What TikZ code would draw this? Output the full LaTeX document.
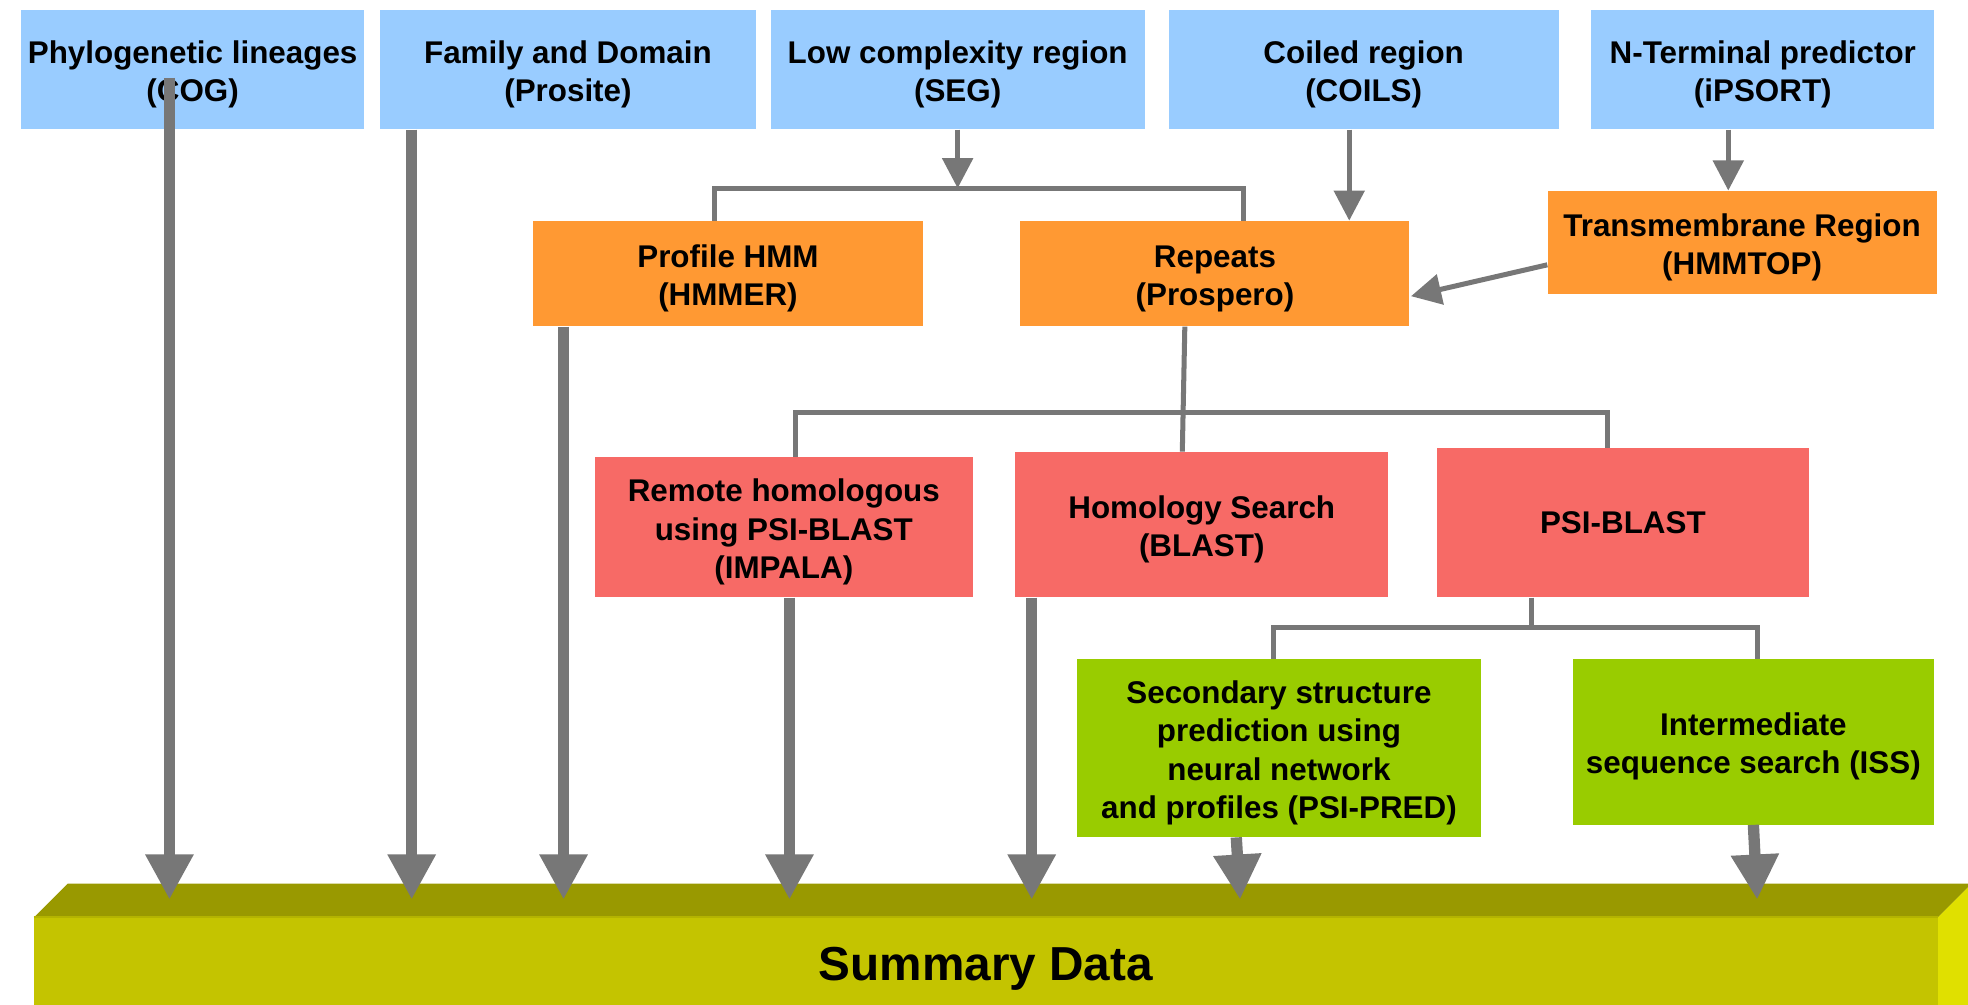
\documentclass[tikz,border=0pt]{standalone}
\usepackage{fontspec}
\setmainfont{Liberation Sans}
\usetikzlibrary{arrows.meta}

\definecolor{skyblue}{HTML}{99CCFF}
\definecolor{tangerine}{HTML}{FF9933}
\definecolor{salmon}{HTML}{F76A66}
\definecolor{lime}{HTML}{99CC00}
\definecolor{linkgray}{HTML}{777777}
\definecolor{olivefront}{HTML}{C4C400}
\definecolor{olivetop}{HTML}{999900}
\definecolor{oliveside}{HTML}{E0E000}
\definecolor{oliveedge}{HTML}{B4B400}

% taller first line, so stacked labels sit a little lower in their boxes
\newcommand{\boxstrut}{\rule{0pt}{26pt}}

\tikzset{
  tool/.style={rectangle, inner sep=0pt, align=center, text=black,
    font=\fontsize{25}{30.5}\selectfont\bfseries},
  source/.style={tool, fill=skyblue, minimum height=95pt},
  feature/.style={tool, fill=tangerine},
  search/.style={tool, fill=salmon},
  predict/.style={tool, fill=lime},
  link/.style={draw=linkgray, line width=4pt},
  linkarrow/.style={link, -{Triangle[width=24pt,length=24pt]}},
  feed/.style={draw=linkgray, line width=9pt, -{Triangle[width=36pt,length=36pt]}},
}

\begin{document}
\begin{tikzpicture}[x=1pt, y=-1pt]
\useasboundingbox (0,0) rectangle (1568,800);
\clip (0,0) rectangle (1568,800);

% source databases
\node[source, minimum width=273pt] (cog)    at (153.5,55.5) {\boxstrut Phylogenetic lineages\\(COG)};
\node[source, minimum width=299pt] (prosite) at (452.5,55.5) {\boxstrut Family and Domain\\(Prosite)};
\node[source, minimum width=298pt] (seg)    at (763,55.5)   {\boxstrut Low complexity region\\(SEG)};
\node[source, minimum width=311pt] (coils)  at (1086.5,55.5){\boxstrut Coiled region\\(COILS)};
\node[source, minimum width=273pt] (ipsort) at (1404.5,55.5){\boxstrut N-Terminal predictor\\(iPSORT)};

% sequence features
\node[feature, minimum width=310pt, minimum height=84pt] (hmmer)    at (580,218)  {\boxstrut Profile HMM\\(HMMER)};
\node[feature, minimum width=310pt, minimum height=84pt] (prospero) at (968,218)  {\boxstrut Repeats\\(Prospero)};
\node[feature, minimum width=310pt, minimum height=82pt] (hmmtop)   at (1388,193) {\boxstrut Transmembrane Region\\(HMMTOP)};

% homology searches
\node[search, minimum width=301pt, minimum height=112pt] (impala)   at (624.5,420) {\boxstrut Remote homologous\\using PSI-BLAST\\(IMPALA)};
\node[search, minimum width=297pt, minimum height=116pt] (blast)    at (957.5,418) {\boxstrut Homology Search\\(BLAST)};
\node[search, minimum width=296pt, minimum height=119pt] (psiblast) at (1293,416.5) {PSI-BLAST};

% profile based predictions
\node[predict, minimum width=322pt, minimum height=142pt] (psipred) at (1019,596) {\boxstrut Secondary structure\\prediction using\\neural network\\and profiles (PSI-PRED)};
\node[predict, minimum width=288pt, minimum height=132pt] (iss)     at (1397,591) {\boxstrut Intermediate\\sequence search (ISS)};

% summary slab
\fill[olivetop]  (27,731) -- (54,704) -- (1571,704) -- (1544,731) -- cycle;
\fill[oliveside] (1544,731) -- (1571,704) -- (1571,840) -- (1544,867) -- cycle;
\node[rectangle, inner sep=0pt, fill=olivefront, minimum width=1517pt, minimum height=74pt,
      font=\fontsize{38}{44}\selectfont\bfseries] (sum) at (785.5,768) {\rule{0pt}{34pt}Summary Data};
\draw[oliveedge, line width=1.5pt] (sum.north west) -- (sum.north east);
\coordinate (sumtop) at ([yshift=14pt]sum.north);

% links between stages
\draw[link] ([xshift=-11pt]hmmer.north) -- ++(0,-26) -| ([xshift=23pt]prospero.north);
\coordinate (seghub) at (seg.south |- 0,150);
\draw[linkarrow] (seg.south) -- (seghub);

\coordinate (coilsout) at ([xshift=-11.5pt]coils.south);
\draw[linkarrow] (coilsout) -- (coilsout |- prospero.north);

\coordinate (ipsortout) at ([xshift=-27.5pt]ipsort.south);
\draw[linkarrow] (ipsortout) -- (ipsortout |- hmmtop.north);

\draw[linkarrow] ([yshift=-18pt]hmmtop.west) -- ([shift={(1pt,-18pt)}]prospero.east);

\draw[link] ([xshift=9.5pt]impala.north) -- ++(0,-35) -| ([xshift=-12pt]psiblast.north);
\draw[link] ([xshift=-24pt]prospero.south) -- ([xshift=-15.5pt]blast.north);

\draw[link] ([xshift=-4pt]psipred.north) -- ++(0,-25) -| ([xshift=3pt]iss.north);
\draw[link] ([xshift=-73pt]psiblast.south) -- ++(0,24);

% results fed into the summary
\coordinate (cogout) at ([shift={(-18.5pt,-6.5pt)}]cog.center);
\draw[feed] (cogout) -- (cogout |- sumtop);
\coordinate (prositeout) at ([xshift=-124.5pt]prosite.south);
\draw[feed] (prositeout) -- (prositeout |- sumtop);
\coordinate (hmmerout) at ([xshift=-131pt]hmmer.south);
\draw[feed] (hmmerout) -- (hmmerout |- sumtop);
\coordinate (impalaout) at ([xshift=4.5pt]impala.south);
\draw[feed] (impalaout) -- (impalaout |- sumtop);
\coordinate (blastout) at ([xshift=-135.5pt]blast.south);
\draw[feed] (blastout) -- (blastout |- sumtop);
\coordinate (psipredout) at ([xshift=-34pt]psipred.south);
\coordinate (psipredin) at ([xshift=-31pt]psipred.south);
\draw[feed] (psipredout) -- (psipredin |- sumtop);
\coordinate (issin) at ([xshift=3pt]iss.south);
\draw[feed] (iss.south) -- (issin |- sumtop);
\end{tikzpicture}
\end{document}
